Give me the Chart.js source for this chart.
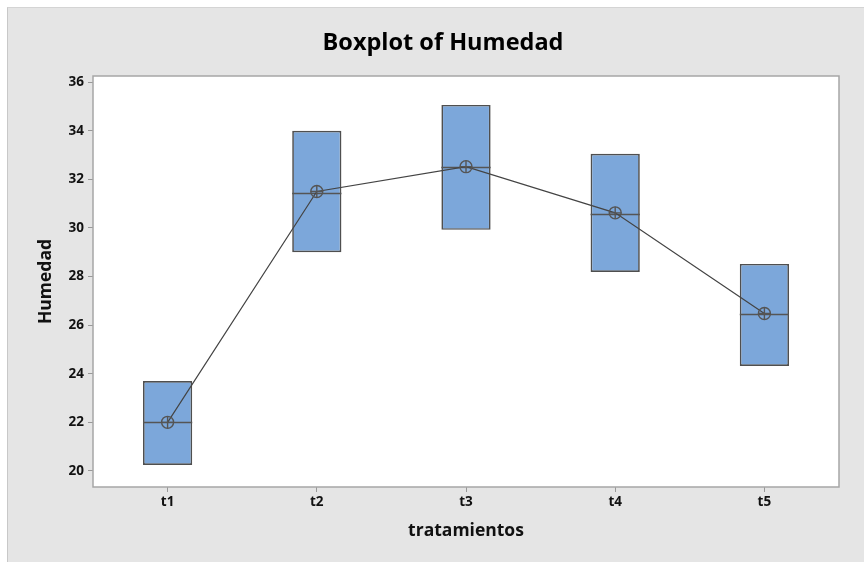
<!DOCTYPE html>
<html lang="en">
<head>
    <meta charset="UTF-8">
    <title>Boxplot of Humedad</title>
    <style>
        body {
            margin: 0;
            background: #fff;
        }
        .frame {
            position: absolute;
            left: 7px;
            top: 7px;
            width: 857px;
            height: 555px;
            background: #e5e5e5;
            border-left: 1px solid #c8c8c8;
            border-top: 1px solid #d4d4d4;
        }
    </style>
</head>
<body>
    <div class="frame">
        <canvas id="boxChart" width="856" height="554"></canvas>
    </div>
    <script src="https://cdn.jsdelivr.net/npm/chart.js"></script>
    <script>
        const categories = ['t1', 't2', 't3', 't4', 't5'];
        const q1 = [20.25, 29.0, 29.92, 28.19, 24.32];
        const q3 = [23.7, 34.0, 35.06, 33.05, 28.52];
        const medians = [22.02, 31.45, 32.5, 30.57, 26.44];
        const means = [22.0, 31.5, 32.52, 30.62, 26.48];
        const yTicks = [20, 22, 24, 26, 28, 30, 32, 34, 36];
        const chartTitle = 'Boxplot of Humedad';

        const fontFamily = '"Open Sans", "Noto Sans", sans-serif';

        const plotFrame = {
            id: 'plotFrame',
            beforeDatasetsDraw(chart) {
                const a = chart.chartArea;
                const ctx = chart.ctx;
                ctx.save();
                ctx.fillStyle = '#ffffff';
                ctx.fillRect(a.left, a.top, a.right - a.left, a.bottom - a.top);
                ctx.restore();
            },
            afterDatasetDraw(chart, args) {
                if (args.index !== 0) return;
                // median lines across each box
                const meta = chart.getDatasetMeta(0);
                const y = chart.scales.y;
                const ctx = chart.ctx;
                ctx.save();
                ctx.strokeStyle = '#555555';
                ctx.lineWidth = 1.5;
                meta.data.forEach((bar, i) => {
                    const py = Math.round(y.getPixelForValue(medians[i])) + 0.5;
                    ctx.beginPath();
                    ctx.moveTo(bar.x - bar.width / 2, py);
                    ctx.lineTo(bar.x + bar.width / 2, py);
                    ctx.stroke();
                });
                ctx.restore();
            },
            afterDraw(chart) {
                const a = chart.chartArea;
                const ctx = chart.ctx;
                ctx.save();
                ctx.strokeStyle = '#a6a6a6';
                ctx.lineWidth = 1.5;
                ctx.strokeRect(a.left, a.top, a.right - a.left, a.bottom - a.top);
                // title, centred a little right of the canvas middle like the original
                ctx.fillStyle = '#000';
                ctx.font = 'bold 23.5px ' + fontFamily;
                ctx.textAlign = 'center';
                ctx.textBaseline = 'alphabetic';
                ctx.fillText(chartTitle, 435, 42);
                ctx.restore();
            }
        };

        const boxes = categories.map((c, i) => [q1[i], q3[i]]);

        new Chart(document.getElementById('boxChart'), {
            type: 'bar',
            data: {
                labels: categories,
                datasets: [{
                    type: 'bar',
                    data: boxes,
                    backgroundColor: '#7ca7da',
                    borderColor: '#4f4f4f',
                    borderWidth: 1.7,
                    borderSkipped: false,
                    categoryPercentage: 1,
                    barPercentage: 0.33,
                    order: 3
                }, {
                    type: 'line',
                    data: means,
                    borderColor: '#444444',
                    borderWidth: 1.2,
                    pointStyle: 'circle',
                    pointRadius: 6,
                    pointBackgroundColor: 'rgba(0,0,0,0)',
                    pointBorderColor: '#555555',
                    pointBorderWidth: 1.4,
                    order: 2
                }, {
                    type: 'line',
                    data: means,
                    showLine: false,
                    pointStyle: 'cross',
                    pointRadius: 6,
                    pointBorderColor: '#555555',
                    pointBorderWidth: 1.4,
                    order: 1
                }]
            },
            options: {
                responsive: false,
                animation: false,
                layout: {
                    padding: { left: 0, right: 25, top: 68, bottom: 0 }
                },
                plugins: {
                    legend: { display: false },
                    tooltip: { enabled: false },
                    title: { display: false }
                },
                scales: {
                    x: {
                        offset: true,
                        grid: {
                            offset: false,
                            drawOnChartArea: false,
                            drawTicks: true,
                            tickLength: 5,
                            color: '#999'
                        },
                        border: { display: false },
                        ticks: {
                            color: '#111',
                            padding: 2,
                            font: { family: fontFamily, size: 13.5, weight: 'bold' }
                        },
                        title: {
                            display: true,
                            text: 'tratamientos',
                            color: '#111',
                            font: { family: fontFamily, size: 17.5, weight: 'bold' },
                            padding: { top: 20, bottom: 20 }
                        },
                        afterFit(scale) { scale.height = 75; }
                    },
                    y: {
                        min: 19.34,
                        max: 36.25,
                        grid: {
                            drawOnChartArea: false,
                            drawTicks: true,
                            tickLength: 5,
                            color: '#999'
                        },
                        border: { display: false },
                        ticks: {
                            color: '#111',
                            padding: 4,
                            font: { family: fontFamily, size: 13.5, weight: 'bold' }
                        },
                        afterBuildTicks(scale) {
                            scale.ticks = yTicks.map(v => ({ value: v }));
                        },
                        title: {
                            display: true,
                            text: 'Humedad',
                            color: '#111',
                            font: { family: fontFamily, size: 17.5, weight: 'bold' },
                            padding: { top: 28, bottom: 28 }
                        },
                        afterFit(scale) { scale.width = 85; }
                    }
                }
            },
            plugins: [plotFrame]
        });
    </script>
</body>
</html>
